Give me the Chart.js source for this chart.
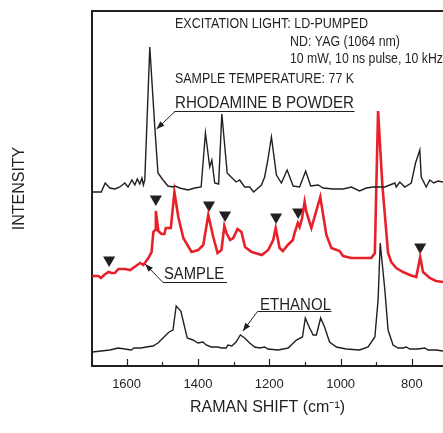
<!DOCTYPE html>
<html>
<head>
<meta charset="utf-8">
<script src="https://cdn.jsdelivr.net/npm/chart.js@4.4.1/dist/chart.umd.min.js"></script>
<style>
  html, body { margin:0; padding:0; background:#ffffff; }
  #wrap { width:443px; height:433px; position:relative; }
</style>
</head>
<body>
<div id="wrap"><canvas id="c" width="443" height="433"></canvas></div>
<script>
// ---------------- DATA ----------------
// Rhodamine B powder (top trace)
const waveRhod = [1699,1671,1660,1647,1633,1619,1605,1596,1585,1577,1570,1563,1557,1553,1549,1535,1521,1512,1498,1484,1470,1464,1451,1428,1409,1391,1379,1367,1361,1353,1342,1333,1318,1307,1293,1283,1269,1255,1244,1222,1213,1205,1194,1180,1166,1150,1133,1115,1098,1084,1063,1049,1021,993,970,947,928,909,876,848,844,834,820,802,790,778,774,760,750,739,727,713];
const intRhod  = [174,174,183,178,177,179,183,179,186,181,187,182,188,181,186,319,239,193,186,180,179,180,178,176,178,179,233,199,206,183,182,252,193,189,184,186,179,179,174,181,189,204,229,191,183,196,180,179,195,180,181,178,177,177,179,175,178,179,179,183,179,184,179,183,203,216,189,179,186,183,185,184];
// Sample (red, middle trace)
const waveSample = [1696,1679,1672,1663,1651,1642,1633,1623,1604,1590,1578,1562,1553,1539,1530,1525,1520,1518,1511,1502,1494,1490,1476,1466,1455,1441,1418,1399,1385,1371,1357,1345,1334,1326,1320,1310,1301,1289,1278,1268,1249,1221,1203,1189,1182,1171,1162,1148,1134,1129,1120,1115,1108,1101,1096,1082,1057,1040,1026,1003,993,970,914,904,900,895,883,867,858,844,825,806,788,777,769,750,733,713];
const intSample  = [90,90,88,91,94,93,93,97,97,96,99,103,101,108,114,134,136,155,135,132,132,138,138,174,149,128,114,116,121,151,129,113,116,140,133,126,128,137,134,119,114,111,116,126,138,118,115,121,126,133,143,139,148,164,154,138,169,131,118,115,110,108,108,113,178,255,181,113,104,98,94,91,89,109,94,88,85,84];
// Ethanol (bottom trace)
const waveEth = [1699,1671,1647,1624,1605,1587,1579,1559,1545,1526,1512,1498,1481,1470,1461,1448,1430,1414,1400,1386,1377,1363,1344,1335,1321,1316,1305,1293,1281,1269,1255,1241,1227,1213,1204,1175,1147,1124,1107,1099,1087,1077,1068,1056,1045,1031,1012,984,947,923,904,895,889,876,867,853,839,825,816,806,783,764,755,732,713];
const intEth  = [14,15,16,18,17,16,18,18,19,20,23,28,34,36,60,55,28,26,23,24,21,19,19,18,18,21,20,24,31,28,23,19,18,19,17,16,18,26,29,48,38,31,31,48,39,24,19,17,16,19,29,66,123,76,36,21,18,18,19,17,17,18,16,16,15];
// Peak markers (inverted triangles over the sample trace)
const markerWave = [1649,1518,1369,1324,1181,1119,777];
const markerInt  = [106,167,161,151,149,154,119];
// Axis ticks
const majorTicks = [1600,1400,1200,1000,800];
const minorTicks = [1500,1300,1100,900];

// ---------------- STYLE ----------------
const INK = '#231f20';
const RED = '#e8202a';
const FONT = "'Liberation Sans', Arial, Helvetica, sans-serif";

const toXY = (xs, ys) => xs.map((x, i) => ({x: x, y: ys[i]}));

function arrowLeader(ctx, x0, y0, x1, y1) {
  ctx.beginPath();
  ctx.moveTo(x0, y0);
  ctx.lineTo(x1, y1);
  ctx.stroke();
  const a = Math.atan2(y1 - y0, x1 - x0);
  const L = 8, W = 3;
  ctx.beginPath();
  ctx.moveTo(x1, y1);
  ctx.lineTo(x1 - L*Math.cos(a) + W*Math.sin(a), y1 - L*Math.sin(a) - W*Math.cos(a));
  ctx.lineTo(x1 - L*Math.cos(a) - W*Math.sin(a), y1 - L*Math.sin(a) + W*Math.cos(a));
  ctx.closePath();
  ctx.fill();
}

const decor = {
  id: 'decor',
  afterDraw(chart) {
    const {ctx, chartArea, scales} = chart;
    const xs = scales.x, ys = scales.y;
    ctx.save();
    // top frame line
    ctx.strokeStyle = INK;
    ctx.lineWidth = 2;
    ctx.beginPath();
    ctx.moveTo(chartArea.left - 1, chartArea.top);
    ctx.lineTo(chart.width + 2, chartArea.top);
    ctx.stroke();
    // inward tick marks on the x axis
    ctx.lineWidth = 1.2;
    const drawTick = (v, len) => {
      const px = Math.round(xs.getPixelForValue(v)) + 0.5;
      ctx.beginPath();
      ctx.moveTo(px, chartArea.bottom);
      ctx.lineTo(px, chartArea.bottom - len);
      ctx.stroke();
    };
    majorTicks.forEach(v => drawTick(v, 7));
    minorTicks.forEach(v => drawTick(v, 4));

    // annotation text
    ctx.fillStyle = INK;
    ctx.textBaseline = 'alphabetic';
    ctx.textAlign = 'left';
    const txt = (s, x, yc, size, maxW) => {
      ctx.font = size + 'px ' + FONT;
      ctx.fillText(s, x, yc + 0.358*size, maxW);
    };
    txt('EXCITATION LIGHT: LD-PUMPED', 175, 23.3, 14, 193);
    txt('ND: YAG (1064 nm)', 290, 40.5, 14, 110);
    txt('10 mW, 10 ns pulse, 10 kHz', 290, 58.3, 14, 153);
    txt('SAMPLE TEMPERATURE: 77 K', 175, 78.3, 14, 179);
    txt('RHODAMINE B POWDER', 175, 102.5, 16, 179);
    txt('SAMPLE', 164, 273.3, 16, 60);
    txt('ETHANOL', 260, 304, 16, 71);

    // underlines + leaders with arrowheads (tips anchored on data coordinates)
    ctx.lineWidth = 1;
    ctx.strokeStyle = INK;
    const ul = (x0, x1, y) => { ctx.beginPath(); ctx.moveTo(x0, y); ctx.lineTo(x1, y); ctx.stroke(); };
    ul(174.5, 354.5, 111.5);
    arrowLeader(ctx, 175, 111.5, xs.getPixelForValue(1516), ys.getPixelForValue(237));
    ul(163, 227, 282.5);
    arrowLeader(ctx, 163, 282.5, xs.getPixelForValue(1548), ys.getPixelForValue(102));
    ul(257.5, 331.5, 311.5);
    arrowLeader(ctx, 257.5, 311.5, xs.getPixelForValue(1274), ys.getPixelForValue(35));
    ctx.restore();
  }
};

new Chart(document.getElementById('c'), {
  type: 'line',
  data: {
    datasets: [
      { label: 'RHODAMINE B POWDER', data: toXY(waveRhod, intRhod), borderColor: INK, borderWidth: 1.4, pointRadius: 0, tension: 0, fill: false },
      { label: 'SAMPLE', data: toXY(waveSample, intSample), borderColor: RED, borderWidth: 2.6, pointRadius: 0, tension: 0, fill: false },
      { label: 'ETHANOL', data: toXY(waveEth, intEth), borderColor: INK, borderWidth: 1.4, pointRadius: 0, tension: 0, fill: false },
      { label: 'peaks', data: toXY(markerWave, markerInt), showLine: false, pointStyle: 'triangle', rotation: 180,
        pointRadius: 7, pointBackgroundColor: INK, pointBorderWidth: 0, pointBorderColor: INK }
    ]
  },
  options: {
    responsive: false,
    animation: false,
    devicePixelRatio: 1,
    layout: { autoPadding: false, padding: { top: 11, left: 0, right: 0, bottom: 0 } },
    plugins: { legend: { display: false }, tooltip: { enabled: false } },
    scales: {
      x: {
        type: 'linear', reverse: true, min: 713, max: 1697,
        afterFit: s => { s.height = 67; s.paddingLeft = 0; s.paddingRight = 0; },
        afterBuildTicks: s => { s.ticks = majorTicks.map(v => ({value: v})); },
        grid: { display: false, drawTicks: false },
        border: { display: true, color: INK, width: 2 },
        ticks: { color: INK, font: { family: FONT, size: 13 }, padding: 11, maxRotation: 0, autoSkip: false,
                 callback: v => String(v) },
        title: { display: true, text: 'RAMAN SHIFT (cm\u207B\u00B9)', color: INK, font: { family: FONT, size: 16 },
                 padding: { top: 0, bottom: 16 } }
      },
      y: {
        min: 0, max: 355,
        afterFit: s => { s.width = 92; s.paddingTop = 0; s.paddingBottom = 0; },
        ticks: { display: false },
        grid: { display: false, drawTicks: false },
        border: { display: true, color: INK, width: 2 },
        title: { display: true, text: 'INTENSITY', color: INK, font: { family: FONT, size: 16 },
                 padding: { top: 10, bottom: 0 } }
      }
    }
  },
  plugins: [decor]
});
</script>
</body>
</html>
